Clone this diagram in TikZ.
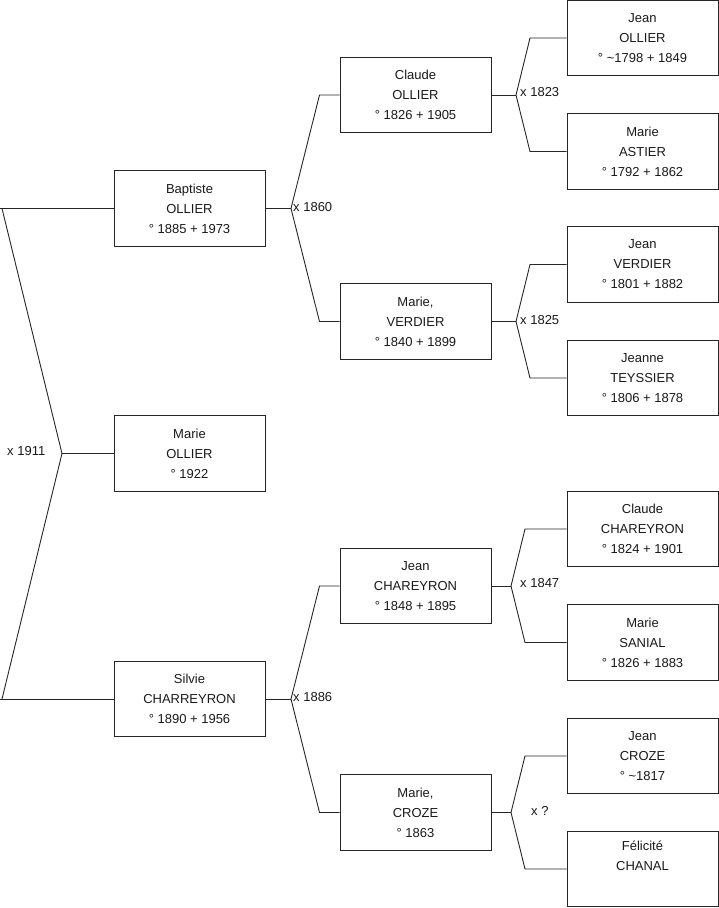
\documentclass[tikz,border=0pt]{standalone}
\usepackage{fontspec}
\setmainfont{Liberation Sans}
\begin{document}
\begin{tikzpicture}[x=1pt,y=-1pt,
  person/.style={draw=black!85,line width=0.9pt,minimum width=151pt,minimum height=75.5pt,inner sep=0pt,
    align=center,font=\fontsize{13}{20}\selectfont,text=black!90},
  wire/.style={draw=black!85,line width=0.9pt},
  mlabel/.style={anchor=west,inner sep=0pt,font=\fontsize{13}{15}\selectfont,text=black!90}]
\useasboundingbox (0,0) rectangle (719,908);
% generation 1
\node[person] (bap) at (189.5,208.5) {Baptiste\\OLLIER\\° 1885 + 1973};
\node[person] (mol) at (189.5,453.5) {Marie\\OLLIER\\° 1922};
\node[person] (sil) at (189.5,699) {Silvie\\CHARREYRON\\° 1890 + 1956};
% generation 2
\node[person] (cla) at (415.5,95) {Claude\\OLLIER\\° 1826 + 1905};
\node[person] (mve) at (415.5,321.5) {Marie,\\VERDIER\\° 1840 + 1899};
\node[person] (jch) at (415.5,586) {Jean\\CHAREYRON\\° 1848 + 1895};
\node[person] (mcr) at (415.5,812.5) {Marie,\\CROZE\\° 1863};
% generation 3
\node[person] (jol) at (642.5,38) {Jean\\OLLIER\\° \textasciitilde1798 + 1849};
\node[person] (mas) at (642.5,151.5) {Marie\\ASTIER\\° 1792 + 1862};
\node[person] (jve) at (642.5,264.5) {Jean\\VERDIER\\° 1801 + 1882};
\node[person] (jte) at (642.5,378) {Jeanne\\TEYSSIER\\° 1806 + 1878};
\node[person] (cch) at (642.5,529) {Claude\\CHAREYRON\\° 1824 + 1901};
\node[person] (msa) at (642.5,642.5) {Marie\\SANIAL\\° 1826 + 1883};
\node[person] (jcr) at (642.5,756) {Jean\\CROZE\\° \textasciitilde1817};
\node[person] (fch) at (642.5,869) {Félicité\\CHANAL\\\strut};
% fork coordinates
\coordinate (a0) at (0,208.5);
\coordinate (t0) at (2,208.5);
\coordinate (v0) at (62,453.5);
\coordinate (b0) at (2,699);
\coordinate (a00) at (0,699);
\coordinate (v1) at (291,208.5);
\coordinate (t1) at (319.5,95);
\coordinate (b1) at (319.5,321.5);
\coordinate (v2) at (291,699);
\coordinate (t2) at (319.5,586);
\coordinate (b2) at (319.5,812.5);
\coordinate (v3) at (516,95);
\coordinate (t3) at (530,38);
\coordinate (b3) at (530,151.5);
\coordinate (v4) at (516,321.5);
\coordinate (t4) at (530,264.5);
\coordinate (b4) at (530,378);
\coordinate (v5) at (511,586);
\coordinate (t5) at (525,529);
\coordinate (b5) at (525,642.5);
\coordinate (v6) at (511,812.5);
\coordinate (t6) at (525,756);
\coordinate (b6) at (525,869);
% connectors
\draw[wire] (bap.west) -- (a0);
\draw[wire] (t0) -- (v0) -- (b0);
\draw[wire] (sil.west) -- (a00);
\draw[wire] (v0) -- (mol.west);
\draw[wire] (bap.east) -- (v1);
\draw[wire] (cla.west) -- (t1) -- (v1) -- (b1) -- (mve.west);
\draw[wire] (sil.east) -- (v2);
\draw[wire] (jch.west) -- (t2) -- (v2) -- (b2) -- (mcr.west);
\draw[wire] (cla.east) -- (v3);
\draw[wire] (jol.west) -- (t3) -- (v3) -- (b3) -- (mas.west);
\draw[wire] (mve.east) -- (v4);
\draw[wire] (jve.west) -- (t4) -- (v4) -- (b4) -- (jte.west);
\draw[wire] (jch.east) -- (v5);
\draw[wire] (cch.west) -- (t5) -- (v5) -- (b5) -- (msa.west);
\draw[wire] (mcr.east) -- (v6);
\draw[wire] (jcr.west) -- (t6) -- (v6) -- (b6) -- (fch.west);
% marriage labels
\node[mlabel] (m0) at (7,451.5) {x 1911};
\node[mlabel] (m1) at (293,207.5) {x 1860};
\node[mlabel] (m2) at (293,697.5) {x 1886};
\node[mlabel] (m3) at (520,92.5) {x 1823};
\node[mlabel] (m4) at (520,320) {x 1825};
\node[mlabel] (m5) at (520,583.5) {x 1847};
\node[mlabel] (m6) at (531,811) {x ?};
\end{tikzpicture}
\end{document}
